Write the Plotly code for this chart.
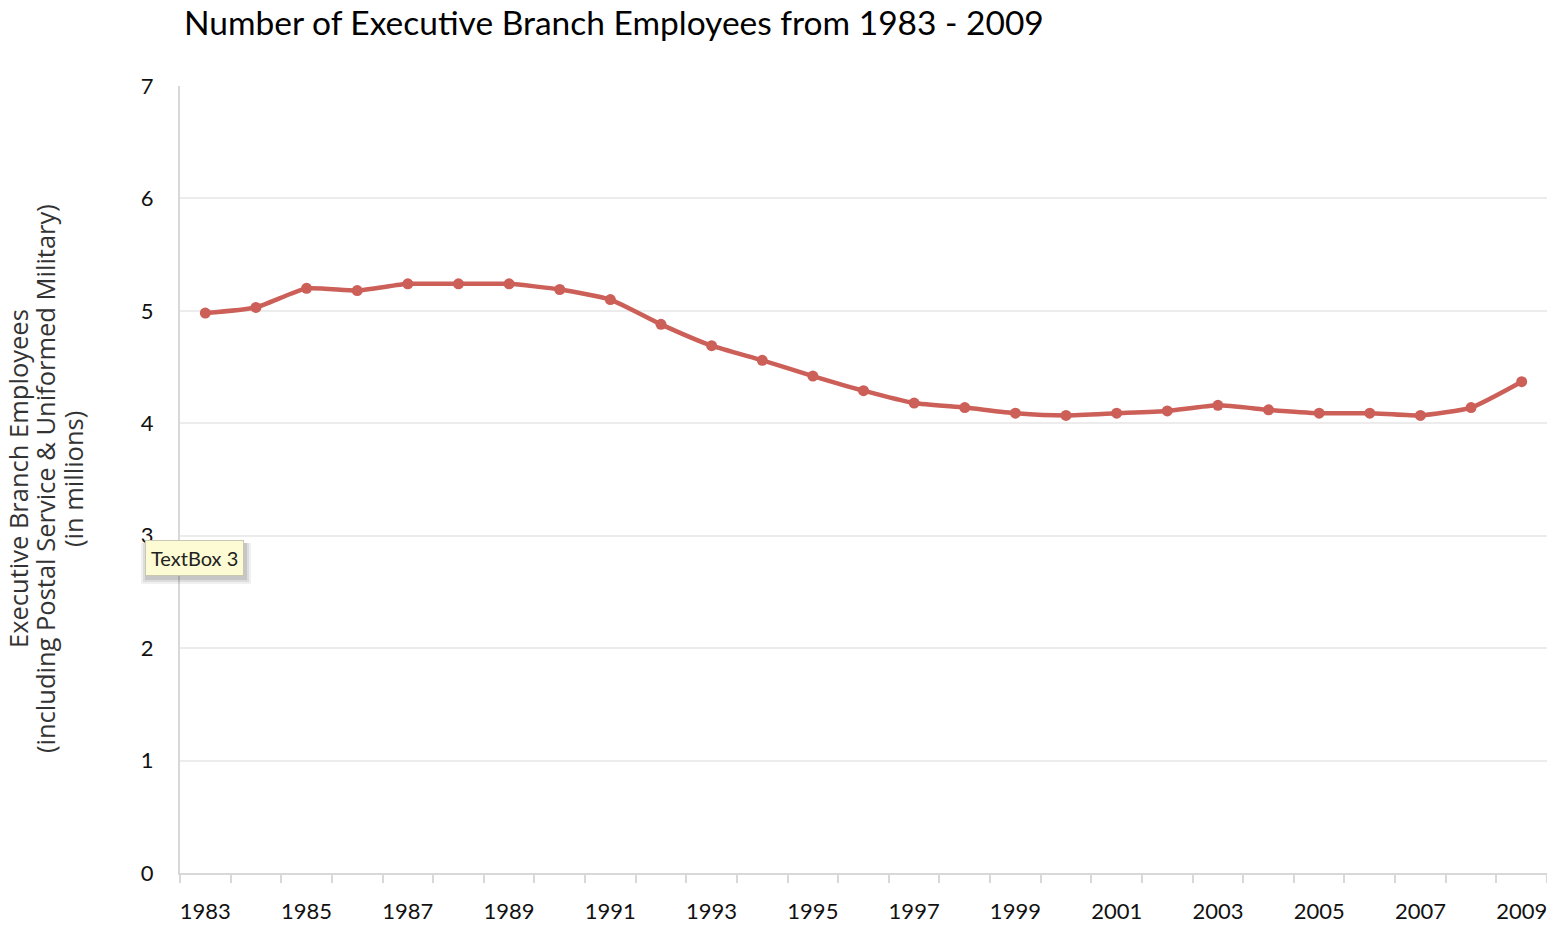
import plotly.graph_objects as go

years = list(range(1983, 2010))
employees = [4.98, 5.03, 5.20, 5.18, 5.24, 5.24, 5.24, 5.19, 5.10, 4.88, 4.69, 4.56, 4.42, 4.29, 4.18, 4.14, 4.09, 4.07, 4.09, 4.11, 4.16, 4.12, 4.09, 4.09, 4.07, 4.14, 4.37]
tick_years = list(range(1983, 2010, 2))
y_ticks = [0, 1, 2, 3, 4, 5, 6, 7]
y_title_lines = ["Executive Branch Employees",
                 "(including Postal Service & Uniformed Military)",
                 "(in millions)"]

font_family = "Lato, 'Open Sans', sans-serif"

W, H = 1547, 928
L, T, B, R = 180, 86, 55, 0
PW, PH = W - L - R, H - T - B


def px(x):  # page x -> paper x
    return (x - L) / PW


def py(y):  # page y -> paper y
    return (H - B - y) / PH


fig = go.Figure()
fig.add_trace(go.Scatter(
    x=years, y=employees, mode="lines+markers",
    line=dict(color="#cc5f58", width=4.5, shape="spline", smoothing=0.5),
    marker=dict(color="#cc5f58", size=11),
    hoverinfo="x+y", showlegend=False,
))

fig.update_layout(
    width=W, height=H,
    margin=dict(l=L, r=R, t=T, b=B),
    paper_bgcolor="white", plot_bgcolor="white",
    title=dict(text="Number of Executive Branch Employees from 1983 - 2009",
               x=184 / W, xanchor="left", y=1 - 23 / H, yanchor="middle",
               font=dict(family=font_family, size=33.5, color="#000")),
    font=dict(family=font_family, color="#222"),
    xaxis=dict(
        range=[1982.5, 2009.5], tickmode="array", tickvals=tick_years,
        ticktext=[str(y) for y in tick_years],
        ticks="", showgrid=False, zeroline=False,
        showline=True, linecolor="#d8d8d8", linewidth=2,
        tickfont=dict(size=22, color="#111"), ticklabelstandoff=18,
        ticklabeloverflow="allow",
        minor=dict(ticks="outside", tick0=1982.5, dtick=1, ticklen=8,
                   tickcolor="#d8d8d8", tickwidth=2, showgrid=False),
    ),
    yaxis=dict(
        range=[0, 7], tickmode="array", tickvals=y_ticks,
        showgrid=True, gridcolor="#ececec", gridwidth=2,
        zeroline=False, showline=True, linecolor="#d8d8d8", linewidth=2,
        ticks="", tickfont=dict(size=22, color="#111"), ticklabelstandoff=20,
    ),
)

# y-axis title, one rotated line per annotation
for xpos, line in zip([18, 45, 73], y_title_lines):
    fig.add_annotation(
        xref="paper", yref="paper", x=px(xpos), y=py(479),
        xanchor="center", yanchor="middle", text=line, textangle=-90,
        showarrow=False, borderpad=0,
        font=dict(family="'Open Sans', sans-serif", size=25.5, color="#333"),
    )

# soft shadow under the text box
bx0, bx1, by0, by1 = px(145), px(245), py(575), py(541)
for i, a in enumerate([0.06, 0.08, 0.10]):
    d = (3 - i) * 2
    fig.add_shape(type="rect", xref="paper", yref="paper",
                  x0=bx0 - (d - 2) / PW, x1=bx1 + d / PW,
                  y0=by0 - (d + 3) / PH, y1=by1 - 2 / PH,
                  fillcolor=f"rgba(0,0,0,{a})", line=dict(width=0), layer="above")

fig.add_annotation(
    xref="paper", yref="paper", x=bx0, y=(by0 + by1) / 2,
    xanchor="left", yanchor="middle", text="TextBox 3", showarrow=False,
    font=dict(family=font_family, size=20, color="#222"),
    bgcolor="#fdfbd3", bordercolor="#c8c8b0", borderwidth=1, borderpad=5,
)

fig.write_html(
    "out.html",
    config={"displayModeBar": False},
    post_script="document.body.style.margin='0';document.body.style.overflow='hidden';",
)
